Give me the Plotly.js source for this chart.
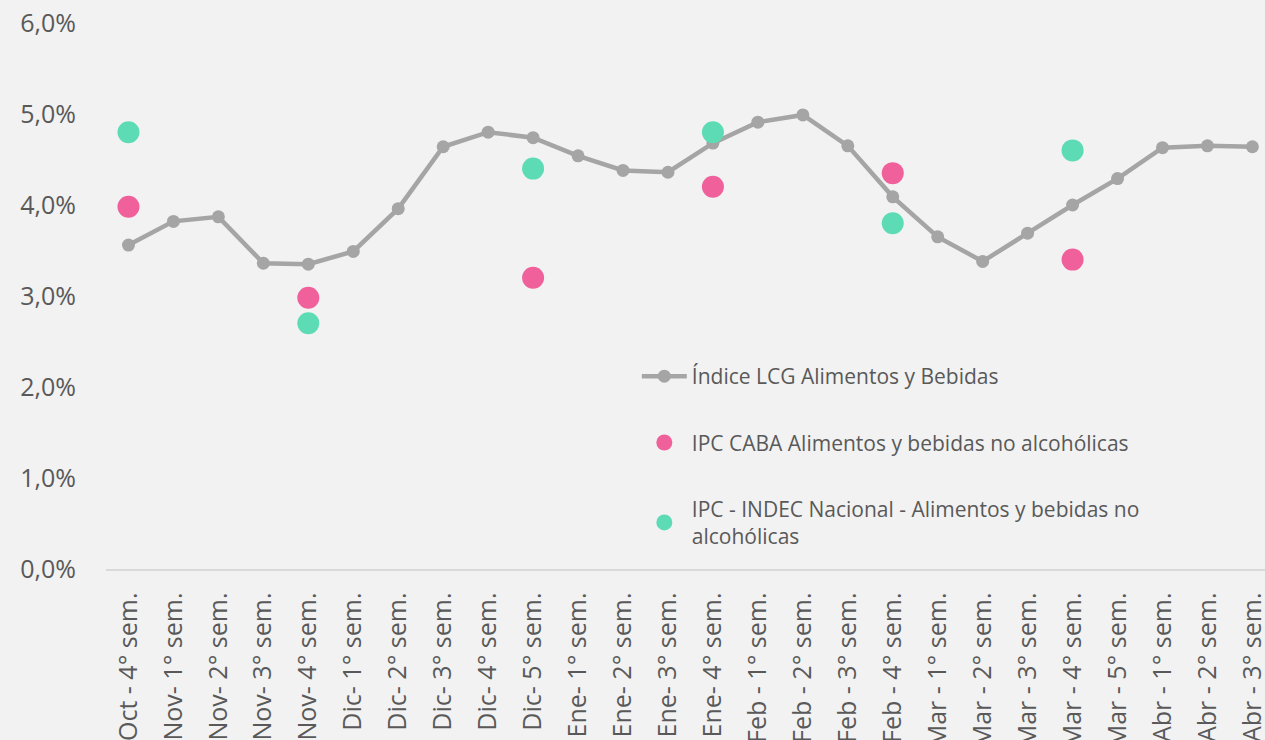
<!DOCTYPE html>
<html><head><meta charset="utf-8">
<script src="https://cdn.plot.ly/plotly-3.0.1.min.js"></script>
<style>html,body{margin:0;padding:0;background:#F2F2F2;overflow:hidden}#chart{width:1265px;height:740px}</style>
</head><body><div id="chart"></div>
<script>
const categories = ["Oct - 4° sem.","Nov- 1° sem.","Nov- 2° sem.","Nov- 3° sem.","Nov- 4° sem.","Dic- 1° sem.","Dic- 2° sem.","Dic- 3° sem.","Dic- 4° sem.","Dic- 5° sem.","Ene- 1° sem.","Ene- 2° sem.","Ene- 3° sem.","Ene- 4° sem.","Feb - 1° sem.","Feb - 2° sem.","Feb - 3° sem.","Feb - 4° sem.","Mar - 1° sem.","Mar - 2° sem.","Mar - 3° sem.","Mar - 4° sem.","Mar - 5° sem.","Abr - 1° sem.","Abr - 2° sem.","Abr - 3° sem."];
const lcg = [3.56,3.82,3.87,3.36,3.35,3.49,3.96,4.64,4.80,4.74,4.54,4.38,4.36,4.68,4.91,4.99,4.65,4.09,3.65,3.38,3.69,4.00,4.29,4.63,4.65,4.64];
const cabaCats = ["Oct - 4° sem.","Nov- 4° sem.","Dic- 5° sem.","Ene- 4° sem.","Feb - 4° sem.","Mar - 4° sem."];
const caba = [3.98,2.98,3.20,4.20,4.35,3.40];
const indecCats = ["Oct - 4° sem.","Nov- 4° sem.","Dic- 5° sem.","Ene- 4° sem.","Feb - 4° sem.","Mar - 4° sem."];
const indec = [4.80,2.70,4.40,4.80,3.80,4.60];
const yTicks = [0,1,2,3,4,5,6];
const yTickText = yTicks.map(v => v.toFixed(1).replace('.', ',') + '%');

const font = "Open Sans, Noto Sans, sans-serif";
const traces = [
  {x: categories, y: lcg, type:'scatter', mode:'lines+markers', name:'Índice LCG Alimentos y Bebidas',
   legendgroup:'a', line:{color:'#A5A5A5', width:4.5}, marker:{color:'#A5A5A5', size:13}},
  {x: cabaCats, y: caba, type:'scatter', mode:'markers', name:'IPC CABA Alimentos y bebidas no alcohólicas',
   legendgroup:'b', marker:{color:'#F0609B', size:22}},
  {x: indecCats, y: indec, type:'scatter', mode:'markers', name:'IPC - INDEC Nacional - Alimentos y bebidas no<br>alcohólicas',
   legendgroup:'c', marker:{color:'#5CDBB5', size:22}}
];
const layout = {
  width:1265, height:740,
  paper_bgcolor:'#F2F2F2', plot_bgcolor:'#F2F2F2',
  margin:{l:106, r:0, t:23, b:171},
  font:{family:font, color:'#595959', size:20},
  showlegend:true,
  legend:{x:0.458, y:0.39, xanchor:'left', yanchor:'top', bgcolor:'rgba(0,0,0,0)', itemwidth:45,
          font:{size:21, color:'#595959', family:font}, traceorder:'grouped', tracegroupgap:36, itemsizing:'trace'},
  xaxis:{type:'category', categoryarray:categories, range:[-0.5, 25.28], tickangle:-90,
         showgrid:false, showline:true, linecolor:'#D9D9D9', linewidth:1.5, zeroline:false,
         ticks:'outside', ticklen:12, tickcolor:'rgba(0,0,0,0)', tickfont:{size:25, color:'#595959'}},
  yaxis:{range:[0,6], tickvals:yTicks, ticktext:yTickText, showgrid:false, zeroline:false,
         showline:false, ticks:'outside', ticklen:24, tickcolor:'rgba(0,0,0,0)', tickfont:{size:25, color:'#595959'}}
};
Plotly.newPlot('chart', traces, layout, {displayModeBar:false, staticPlot:true});
</script></body></html>
